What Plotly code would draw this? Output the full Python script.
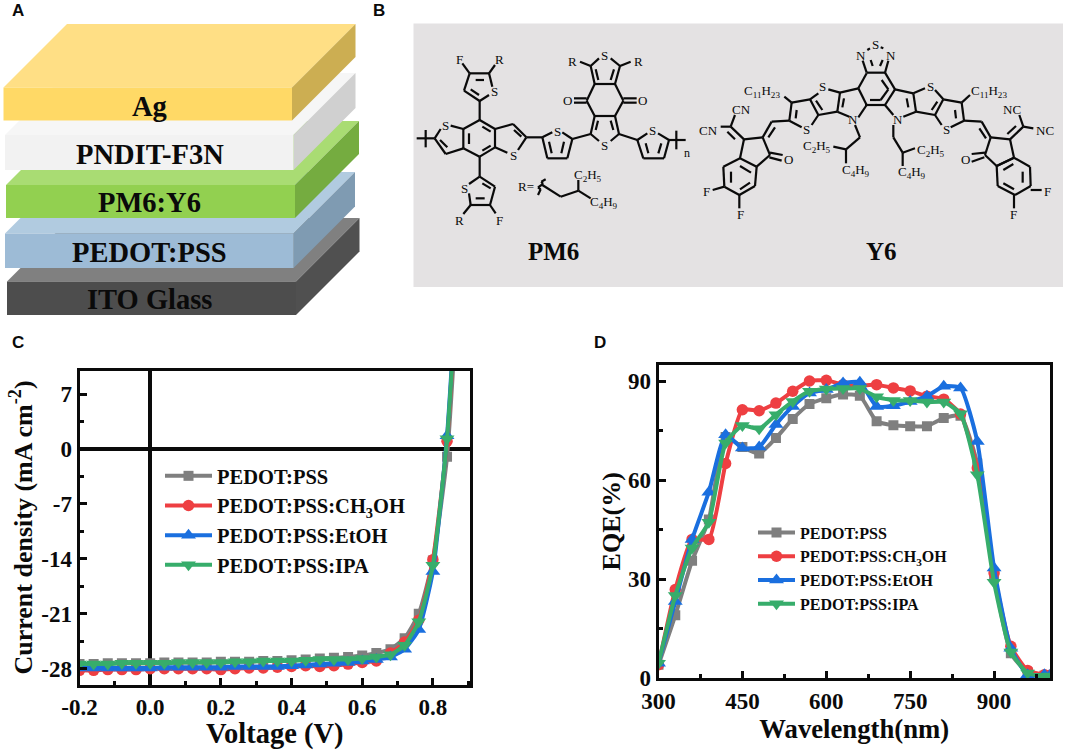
import plotly.graph_objects as go

SERIF = "Liberation Serif"
SANS = "Liberation Sans"
INK = "#0a0a0a"

series_names = ["PEDOT:PSS", "PEDOT:PSS:CH<sub>3</sub>OH", "PEDOT:PSS:EtOH", "PEDOT:PSS:IPA"]
series_colors = ["#7f7f7f", "#ee3f42", "#1a6fdf", "#37ad6b"]
series_symbols = ["square", "circle", "triangle-up", "triangle-down"]
series_sizes = [10, 11.5, 13, 13]

voltage = [-0.2, -0.16, -0.12, -0.08, -0.04, 0.0, 0.04, 0.08, 0.12, 0.16, 0.2, 0.24, 0.28, 0.32,
           0.36, 0.4, 0.44, 0.48, 0.52, 0.56, 0.6, 0.64, 0.68, 0.72, 0.76, 0.8, 0.84, 0.88]
j_pedot = [-27.4, -27.4, -27.3, -27.3, -27.3, -27.3, -27.2, -27.2, -27.2, -27.2, -27.1, -27.1, -27.1, -27.0,
           -27.0, -26.9, -26.8, -26.7, -26.6, -26.5, -26.3, -26.0, -25.5, -24.1, -21.0, -14.2, -1.0, 28.0]
j_meoh = [-28.2, -28.2, -28.1, -28.1, -28.1, -28.0, -28.0, -28.0, -28.0, -28.0, -28.1, -28.0, -27.9, -27.9,
          -27.8, -27.7, -27.6, -27.7, -27.6, -27.4, -27.2, -27.0, -26.0, -24.6, -21.8, -14.1, 1.0, 30.0]
j_etoh = [-27.9, -27.9, -27.9, -27.9, -27.9, -27.9, -27.8, -27.8, -27.8, -27.8, -27.8, -27.7, -27.7, -27.7,
          -27.7, -27.6, -27.5, -27.4, -27.3, -27.2, -27.0, -26.8, -26.5, -25.5, -23.0, -15.6, 1.7, 31.0]
j_ipa = [-27.4, -27.4, -27.4, -27.3, -27.3, -27.3, -27.3, -27.2, -27.2, -27.2, -27.2, -27.1, -27.1, -27.0,
         -27.0, -27.0, -26.9, -26.8, -26.8, -26.8, -26.7, -26.5, -26.2, -25.0, -22.0, -14.8, 1.3, 30.0]

voltage_ticks = [-0.2, 0.0, 0.2, 0.4, 0.6, 0.8]
voltage_labels = ["-0.2", "0.0", "0.2", "0.4", "0.6", "0.8"]
density_ticks = [-28, -21, -14, -7, 0, 7]
density_labels = ["-28", "-21", "-14", "-7", "0", "7"]

wavelength = [300, 330, 360, 390, 420, 450, 480, 510, 540, 570, 600, 630, 660, 690, 720, 750, 780, 810, 840, 870,
              900, 930, 960, 990, 1000]
eqe_pedot = [4.0, 19.0, 35.5, 48.0, 73.0, 70.0, 68.0, 72.7, 78.5, 83.0, 84.8, 85.9, 85.5, 77.8, 76.6, 76.3, 76.3,
             78.8, 79.5, 65.0, 30.8, 7.5, 1.7, 0.7, 0.6]
eqe_meoh = [4.0, 26.8, 42.0, 42.0, 65.0, 81.3, 81.0, 83.3, 86.9, 90.0, 90.2, 88.9, 88.6, 88.9, 87.9, 87.0, 85.4,
            84.5, 80.0, 63.6, 31.8, 9.6, 2.3, 1.0, 0.8]
eqe_etoh = [4.5, 23.2, 42.0, 56.3, 73.7, 69.7, 70.0, 76.8, 82.3, 86.4, 87.4, 89.4, 89.6, 82.3, 82.5, 83.8, 85.4,
            88.4, 87.9, 71.7, 33.3, 9.0, 1.0, 1.0, 0.8]
eqe_ipa = [4.5, 25.0, 39.4, 47.2, 71.2, 76.5, 75.5, 79.8, 83.8, 86.9, 87.6, 87.7, 87.7, 85.2, 84.1, 84.1, 83.6,
           83.6, 80.1, 61.6, 29.0, 7.9, 1.5, 0.5, 0.6]

wave_ticks = [300, 450, 600, 750, 900]
wave_labels = ["300", "450", "600", "750", "900"]
eqe_ticks = [0, 30, 60, 90]
eqe_labels = ["0", "30", "60", "90"]

# Panel A stack: label, front-left x, front-right x, front top y, front bottom y, back-right top y, colours
stack = [
    ("ITO Glass", 7, 296, 281.5, 315, 218, "#4d4d4d", "#808080", "#505050"),
    ("PEDOT:PSS", 5, 293.5, 233.5, 268, 172, "#9dbbd6", "#b1cbe0", "#7f9bb2"),
    ("PM6:Y6", 6, 295, 185, 218, 121, "#92d050", "#a9dc73", "#75ac40"),
    ("PNDIT-F3N", 5, 293.5, 135, 170, 73, "#f2f2f2", "#f6f6f6", "#d0d0d0"),
    ("Ag", 3.5, 292, 87.5, 120.5, 24, "#ffd966", "#ffdf85", "#ccae52"),
]
stack_label_y = [299, 252, 202, 154, 106]

# Bonds of PM6, in crop coordinates of a 3x view starting at (414, 30)
pm6_bonds = [
    (197,270,243,297),(243,297,243,352),(243,352,197,380),(197,380,148,355),(148,355,148,297),(148,297,197,270),
    (165,310,165,342),(205,290,230,305),(205,362,230,347),
    (148,297,110,287),(80,297,62,325),(62,325,95,372),(95,372,148,355),(78,330,100,352),
    (243,297,297,282),(297,282,337,322),(337,322,312,360),(280,368,243,352),(300,300,322,320),
    (62,325,8,325),(35,300,35,352),(765,330,815,330),(787,302,787,358),
    (337,322,385,322),(385,322,415,307),(445,307,475,327),(475,327,460,385),(460,385,400,385),(400,385,385,322),
    (405,335,413,370),(450,335,442,370),(475,327,530,312),
    (530,312,555,333),(590,333,615,312),(615,312,603,258),(603,258,542,258),(542,258,530,312),
    (552,272,545,300),(590,272,598,300),
    (542,258,518,212),(518,212,542,162),(542,162,603,162),(603,162,628,212),(628,212,603,258),
    (542,162,530,108),(530,108,555,85),(590,85,618,108),(618,108,603,162),(553,150,545,118),(590,150,600,118),
    (530,108,498,95),(618,108,650,95),
    (518,205,480,205),(518,218,480,218),(628,205,668,205),(628,218,668,218),
    (615,312,670,330),(670,330,700,310),(732,310,765,330),(765,330,750,385),(750,385,688,385),(688,385,670,330),
    (695,340,703,370),(742,340,733,370),
    (197,270,197,213),(197,213,225,195),(225,130,235,170),(225,130,167,130),(167,130,150,182),(150,182,197,213),
    (185,150,210,150),(170,178,195,195),(167,130,145,100),(225,130,243,105),
    (197,380,197,440),(197,440,165,462),(165,490,170,525),(170,525,228,525),(228,525,243,470),(243,470,197,440),
    (185,505,212,505),(205,460,230,475),(228,525,245,550),(170,525,148,552),
    (372,495,380,478),(380,478,372,472),(372,472,387,462),(387,462,382,455),(382,455,395,448),
    (385,465,440,500),(440,500,493,482),(493,482,493,450),(493,482,530,505),
]
pm6_labels = [
    (93,285,"S",13),(297,375,"S",13),(430,303,"S",13),(572,345,"S",13),(572,77,"S",13),(715,300,"S",13),
    (240,185,"S",13),(150,475,"S",13),(135,87,"F",13),(257,87,"R",13),(257,572,"F",13),(135,572,"R",13),
    (475,93,"R",13),(672,93,"R",13),(460,212,"O",13),(685,212,"O",13),(818,368,"n",12),(335,470,"R=",13),
    (523,435,"C<sub>2</sub>H<sub>5</sub>",13),(570,518,"C<sub>4</sub>H<sub>9</sub>",13),
]
# Bonds of Y6, left half: 3x view starting at (690, 30)
y6_left_bonds = [
    (150,385,200,410),(200,410,195,468),(195,468,148,495),(148,495,103,470),(103,470,100,410),(100,410,150,385),
    (123,425,123,458),(150,478,180,458),(150,408,183,428),
    (150,385,162,328),(162,328,218,322),(218,322,240,375),(240,375,200,410),
    (240,368,278,375),(238,382,275,392),
    (162,328,122,290),(135,328,112,305),(122,290,92,290),(122,290,135,255),
    (218,322,245,275),(235,322,255,292),(245,275,298,272),
    (298,272,335,292),(365,285,385,255),(385,255,360,208),(360,208,305,218),(305,218,298,272),(320,240,317,265),
    (305,218,283,200),(360,208,385,190),(415,178,450,188),(450,188,442,245),(442,245,385,255),(378,212,397,240),
    (462,205,457,232),(442,245,478,260),(505,262,530,225),(450,188,505,175),(505,175,530,225),(505,175,530,130),
    (495,285,510,322),(510,322,468,358),(468,358,430,350),(468,358,468,400),
    (103,470,68,480),(148,495,148,535),
]
y6_left_labels = [
    (155,237,"CN",13),(55,300,"CN",13),(295,387,"O",13),(50,483,"F",13),(150,552,"F",13),
    (350,298,"S",13),(398,168,"S",13),(490,268,"N",13),(513,77,"N",13),
    (215,185,"C<sub>11</sub>H<sub>23</sub>",13),(380,350,"C<sub>2</sub>H<sub>5</sub>",13),
    (497,420,"C<sub>4</sub>H<sub>9</sub>",13),
]
# Bonds of Y6, right half: 3x view starting at (860, 30)
y6_right_bonds = [
    (20,128,75,128),(75,128,105,178),(105,178,75,225),(75,225,15,225),(20,128,8,92),(75,128,85,92),
    (38,108,32,90),(60,108,68,90),(65,150,85,178),(62,210,85,178),(30,210,62,210),(70,55,62,52),(22,60,30,55),
    (105,178,160,190),(160,190,168,245),(168,245,130,260),(100,255,75,225),
    (160,190,195,175),(225,180,250,208),(250,208,225,255),(225,255,168,245),(140,205,145,232),(232,215,215,240),
    (250,208,305,218),(305,218,312,272),(312,272,272,292),(245,285,225,255),(285,240,288,265),(305,218,330,195),
    (312,272,365,275),(365,275,392,322),(358,295,378,325),
    (392,322,450,328),(450,328,462,383),(462,383,410,408),(410,408,375,375),(375,375,392,322),
    (375,368,335,372),(373,382,335,395),
    (450,328,490,290),(442,312,468,288),(490,290,478,255),(490,290,520,295),
    (462,383,510,410),(510,410,512,468),(512,468,465,495),(465,495,413,468),(413,468,410,408),(410,408,462,383),
    (488,425,488,458),(430,460,462,478),(430,420,460,402),
    (512,480,545,480),(462,495,462,535),
    (100,285,100,322),(100,322,128,368),(128,368,165,355),(128,368,128,408),
]
y6_right_labels = [
    (47,43,"S",13),(92,77,"N",13),(210,168,"S",13),(258,298,"S",13),(115,268,"N",13),
    (388,185,"C<sub>11</sub>H<sub>23</sub>",13),(455,237,"NC",13),(555,300,"NC",13),(315,388,"O",13),
    (562,483,"F",13),(460,552,"F",13),(212,360,"C<sub>2</sub>H<sub>5</sub>",13),(157,428,"C<sub>4</sub>H<sub>9</sub>",13),
]
bond_groups = [(414, 30, pm6_bonds), (690, 30, y6_left_bonds), (860, 30, y6_right_bonds)]
label_groups = [(414, 30, pm6_labels), (690, 30, y6_left_labels), (860, 30, y6_right_labels)]

W, H = 1065, 750
fig = go.Figure()

# C panel frame in px: left, right, top, bottom
C_BOX = (79.5, 470, 370.5, 684.5)
D_BOX = (658.5, 1050, 364.5, 678)


def dom_x(b):
    return [b[0] / W, b[1] / W]


def dom_y(b):
    return [1 - b[3] / H, 1 - b[2] / H]


def add_series(x, values, xa, ya, legend, lw):
    for name, vals, col, sym, size in zip(series_names, values, series_colors, series_symbols, series_sizes):
        fig.add_trace(go.Scatter(
            x=x, y=vals, name=name, mode="lines+markers", xaxis=xa, yaxis=ya, legend=legend,
            line=dict(color=col, width=lw, shape="spline", smoothing=0.5),
            marker=dict(color=col, symbol=sym, size=size, line=dict(width=0)),
        ))


add_series(voltage, [j_pedot, j_meoh, j_etoh, j_ipa], "x", "y", "legend", 4)
add_series(wavelength, [eqe_pedot, eqe_meoh, eqe_etoh, eqe_ipa], "x2", "y2", "legend2", 4)

# Molecular drawing on a pixel-scaled overlay axis
bx, by = [], []
for x0, y0, segs in bond_groups:
    for a, b, c, d in segs:
        bx += [x0 + a / 3, x0 + c / 3, None]
        by += [y0 + b / 3, y0 + d / 3, None]
fig.add_trace(go.Scatter(x=bx, y=by, mode="lines", xaxis="x3", yaxis="y3", showlegend=False,
                         line=dict(color=INK, width=2.2), hoverinfo="skip"))

shapes = [dict(type="rect", xref="x3", yref="y3", x0=413.5, x1=1063, y0=23.5, y1=287,
               fillcolor="#e4e2e3", line=dict(width=0), layer="below")]
for name, xl, xr, yt, yb, back, front, top, side in stack:
    d = yt - back
    shapes.append(dict(type="path", xref="x3", yref="y3", layer="below", fillcolor=top, line=dict(width=0),
                       path=f"M{xl},{yt} L{xl+d},{back} L{xr+d},{back} L{xr},{yt} Z"))
    shapes.append(dict(type="path", xref="x3", yref="y3", layer="below", fillcolor=side, line=dict(width=0),
                       path=f"M{xr},{yt} L{xr+d},{back} L{xr+d},{back+yb-yt} L{xr},{yb} Z"))
    shapes.append(dict(type="rect", xref="x3", yref="y3", layer="below", fillcolor=front, line=dict(width=0),
                       x0=xl, x1=xr, y0=yt, y1=yb))

annotations = []


def note(x, y, text, size, family=SERIF, weight=700, color=INK):
    annotations.append(dict(x=x, y=y, xref="x3", yref="y3", text=text, showarrow=False,
                            xanchor="center", yanchor="middle",
                            font=dict(family=family, size=size, color=color, weight=weight)))


for (name, xl, xr, yt, yb, *_), ly in zip(stack, stack_label_y):
    note(149.5, ly, name, 28.5)
for x0, y0, labs in label_groups:
    for a, b, t, s in labs:
        note(x0 + a / 3, y0 + b / 3, t, s, weight=400)
note(553, 251, "PM6", 25)
note(881, 251, "Y6", 25)
for x, y, t in [(18, 10, "A"), (379, 10, "B"), (18, 342, "C"), (600, 342, "D")]:
    note(x, y, t, 17, family=SANS)

tick_font = dict(family=SERIF, size=23, color=INK, weight=700)


def axis(rng, ticks, labels, tick0, minor, title, title_size, standoff, domain, anchor, zero=False):
    return dict(range=rng, tickmode="array", tickvals=ticks, ticktext=labels, domain=domain, anchor=anchor,
                showgrid=False, automargin=False, showline=True, linecolor=INK, linewidth=3, mirror=True,
                ticks="inside", ticklen=7, tickwidth=3, tickcolor=INK, tickfont=tick_font,
                minor=dict(dtick=minor, tick0=tick0, ticks="inside", ticklen=4, tickwidth=3, tickcolor=INK,
                           showgrid=False),
                title=dict(text=title, standoff=standoff,
                           font=dict(family=SERIF, size=title_size, color=INK, weight=700)),
                zeroline=zero, zerolinecolor=INK, zerolinewidth=3.5)


fig.update_layout(
    width=W, height=H, margin=dict(l=0, r=0, t=0, b=0), paper_bgcolor="white", plot_bgcolor="rgba(0,0,0,0)",
    autosize=False, shapes=shapes, annotations=annotations,
    xaxis=axis([-0.2, 0.905], voltage_ticks, voltage_labels, 0.0, 0.1, "Voltage (V)", 28.5, 10, dom_x(C_BOX), "y", True),
    yaxis=axis([-30, 10], density_ticks, density_labels, 0, 3.5, "Current density (mA cm<sup>-2</sup>)", 26, 2,
               dom_y(C_BOX), "x", True),
    xaxis2=axis([300, 1000], wave_ticks, wave_labels, 300, 75, "Wavelength(nm)", 26.7, 0, dom_x(D_BOX), "y2"),
    yaxis2=axis([0, 95], eqe_ticks, eqe_labels, 0, 15, "EQE(%)", 26, 0, dom_y(D_BOX), "x2"),
    xaxis3=dict(range=[0, W], domain=[0, 1], visible=False, anchor="y3", fixedrange=True, automargin=False),
    yaxis3=dict(range=[H, 0], domain=[0, 1], visible=False, anchor="x3", fixedrange=True, automargin=False),
    legend=dict(x=160 / W, y=1 - 456 / H, xanchor="left", yanchor="top", bgcolor="rgba(0,0,0,0)",
                font=dict(family=SERIF, size=20.5, color=INK, weight=700), itemwidth=47, tracegroupgap=0),
    legend2=dict(x=753 / W, y=1 - 515.5 / H, xanchor="left", yanchor="top", bgcolor="rgba(0,0,0,0)",
                 font=dict(family=SERIF, size=16, color=INK, weight=700), itemwidth=37, tracegroupgap=0),
)

fig.write_html("out.html", config={"displayModeBar": False}, post_script="document.body.style.margin='0';")
